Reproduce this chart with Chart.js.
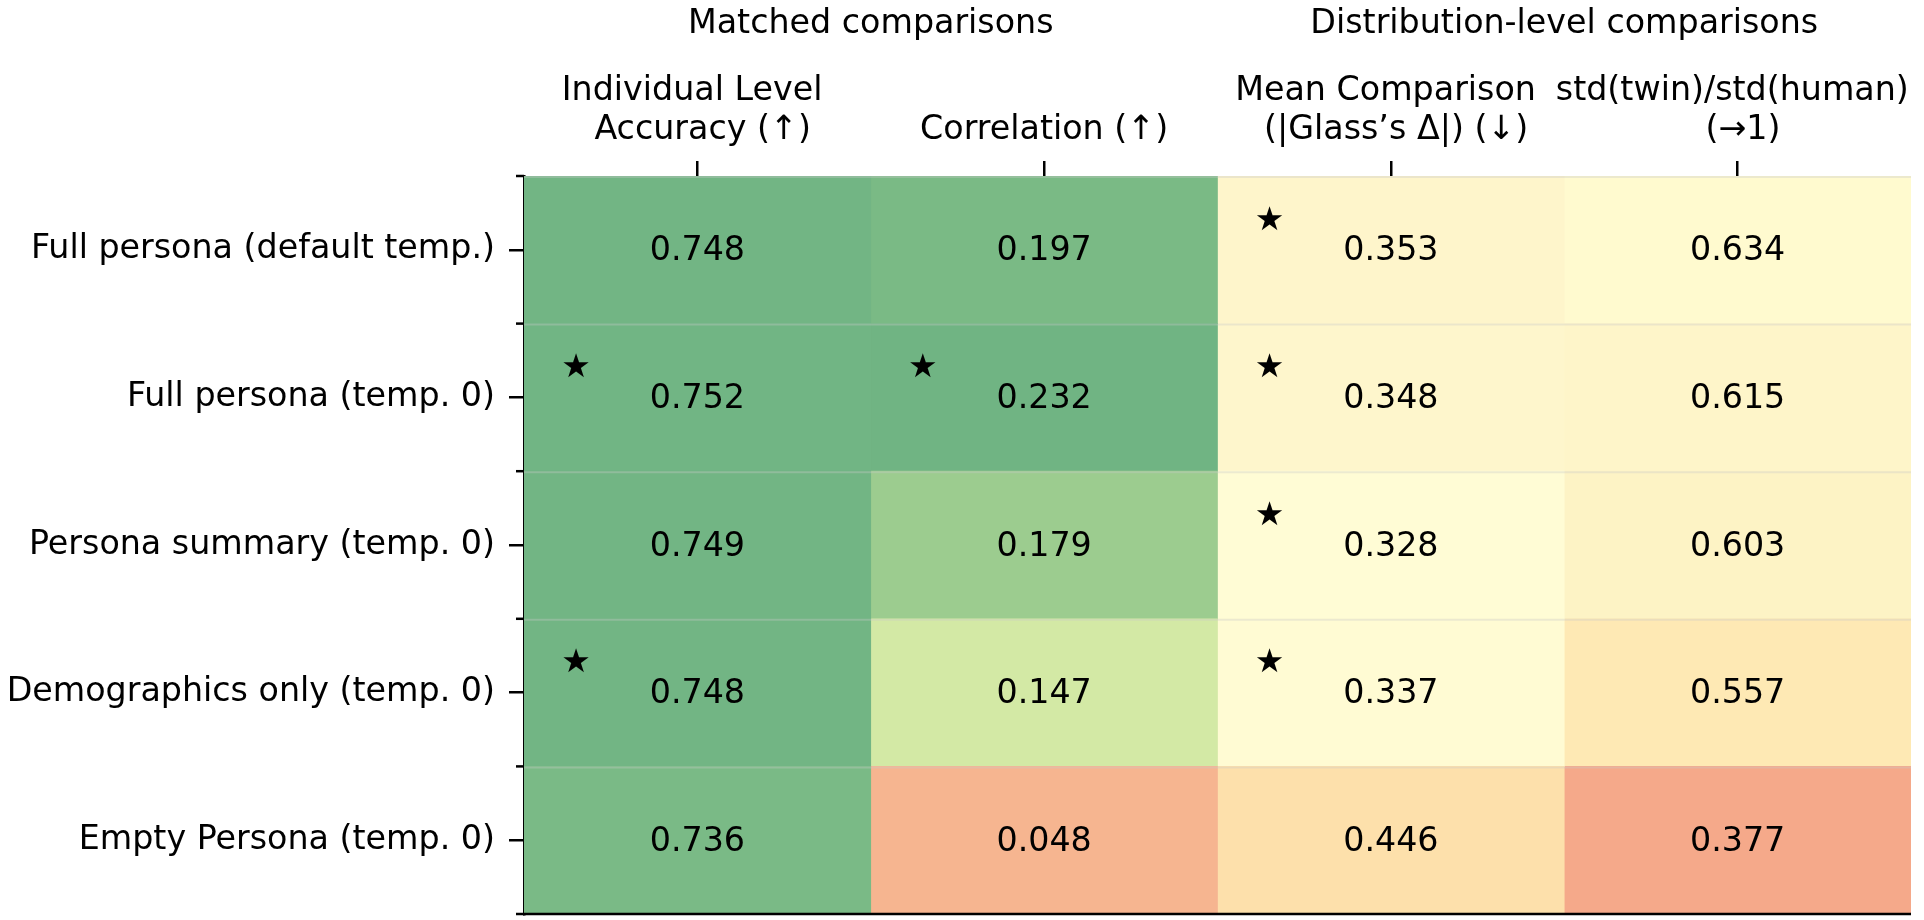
<!DOCTYPE html>
<html>
<head>
<meta charset="utf-8">
<script src="https://cdn.jsdelivr.net/npm/chart.js@4/dist/chart.umd.min.js"></script>
<style>
  html, body { margin: 0; padding: 0; background: #ffffff; }
  #wrap { width: 1924px; height: 920px; }
</style>
</head>
<body>
<div id="wrap"><canvas id="c" width="1924" height="920"></canvas></div>
<script>
// ---------- data ----------
const rowLabels = [
  "Full persona (default temp.)",
  "Full persona (temp. 0)",
  "Persona summary (temp. 0)",
  "Demographics only (temp. 0)",
  "Empty Persona (temp. 0)"
];
const groupLabels = ["Matched comparisons", "Distribution-level comparisons"];
const columnLabels = [
  ["Individual Level ", " Accuracy (\u2191)"],
  ["Correlation (\u2191)"],
  ["Mean Comparison ", " (|Glass\u2019s \u0394|) (\u2193)"],
  ["std(twin)/std(human) ", " (\u21921)"]
];
const accuracy    = [0.748, 0.752, 0.749, 0.748, 0.736];
const correlation = [0.197, 0.232, 0.179, 0.147, 0.048];
const glassDelta  = [0.353, 0.348, 0.328, 0.337, 0.446];
const stdRatio    = [0.634, 0.615, 0.603, 0.557, 0.377];
// best / not-significantly-different-from-best markers
const starAccuracy    = [false, true, false, true, false];
const starCorrelation = [false, true, false, false, false];
const starGlassDelta  = [true, true, true, true, false];
const starStdRatio    = [false, false, false, false, false];

// ---------- styles ----------
const cellColors = [
  ["#72b584", "#71b584", "#72b584", "#72b584", "#7aba86"],
  ["#7aba85", "#70b483", "#9ccc8f", "#d3e9a5", "#f6b590"],
  ["#fef5cb", "#fef6cc", "#fffcd5", "#fffbd3", "#fde0ab"],
  ["#fffacf", "#fef5c9", "#fdf3c5", "#fee9b4", "#f5a98a"]
];
const FONT = "'DejaVu Sans', sans-serif";
const FS = 33.3;

const columns = [accuracy, correlation, glassDelta, stdRatio];
const stars = [starAccuracy, starCorrelation, starGlassDelta, starStdRatio];

const datasets = columns.map((vals, c) => ({
  label: columnLabels[c].join(" "),
  data: vals.map((v, r) => ({ x: [c, c + 1], y: rowLabels[r], v: v, star: stars[c][r] })),
  backgroundColor: cellColors[c],
  borderWidth: 0,
  barPercentage: 1,
  categoryPercentage: 1,
  grouped: false
}));

const overlay = {
  id: 'overlay',
  afterDatasetsDraw(chart) {
    const ctx = chart.ctx;
    const area = chart.chartArea;
    const ys = chart.scales.y;
    ctx.save();
    // faint row separators
    ctx.strokeStyle = 'rgba(200,200,200,0.35)';
    ctx.lineWidth = 2;
    for (let i = 0; i < rowLabels.length; i++) {
      const yb = ys.getPixelForValue(i - 0.5);
      ctx.beginPath();
      ctx.moveTo(area.left, yb + 1);
      ctx.lineTo(area.right, yb + 1);
      ctx.stroke();
    }
    // values and stars
    ctx.fillStyle = '#000';
    chart.data.datasets.forEach((ds, di) => {
      const meta = chart.getDatasetMeta(di);
      meta.data.forEach((el, j) => {
        const raw = ds.data[j];
        const p = el.getCenterPoint();
        ctx.font = FS + "px " + FONT;
        ctx.textAlign = 'center';
        ctx.textBaseline = 'middle';
        ctx.fillText(raw.v.toFixed(3), p.x, p.y + 2);
        if (raw.star) {
          const left = Math.min(el.x, el.base);
          const top = p.y - el.height / 2;
          ctx.font = "33px " + FONT;
          ctx.fillText("\u2605", left + 52, top + 45);
        }
      });
    });
    ctx.restore();
  },
  afterDraw(chart) {
    const ctx = chart.ctx;
    const area = chart.chartArea;
    const xs = chart.scales.x, ys = chart.scales.y;
    ctx.save();
    ctx.strokeStyle = '#000';
    ctx.lineWidth = 2.5;
    // bottom spine
    ctx.beginPath();
    ctx.moveTo(area.left - 1, area.bottom);
    ctx.lineTo(area.right, area.bottom);
    ctx.stroke();
    // minor ticks at row boundaries
    for (let i = 0; i <= rowLabels.length; i++) {
      const yb = ys.getPixelForValue(i - 0.5);
      ctx.beginPath();
      ctx.moveTo(area.left - 8, yb);
      ctx.lineTo(area.left, yb);
      ctx.stroke();
    }
    // group headers
    ctx.fillStyle = '#000';
    ctx.font = FS + "px " + FONT;
    ctx.textAlign = 'center';
    ctx.textBaseline = 'middle';
    groupLabels.forEach((g, k) => {
      const cx = (xs.getPixelForValue(2 * k) + xs.getPixelForValue(2 * k + 2)) / 2;
      ctx.fillText(g, cx, 24);
    });
    ctx.restore();
  }
};

new Chart(document.getElementById('c'), {
  type: 'bar',
  data: { labels: rowLabels, datasets: datasets },
  options: {
    indexAxis: 'y',
    responsive: false,
    animation: false,
    devicePixelRatio: 1,
    layout: { padding: { left: 0, right: 13, top: 0, bottom: 6 } },
    plugins: { legend: { display: false }, tooltip: { enabled: false } },
    scales: {
      x: {
        type: 'linear',
        position: 'top',
        min: 0, max: 4,
        afterBuildTicks: (s) => { s.ticks = [0.5, 1.5, 2.5, 3.5].map(v => ({ value: v })); },
        afterFit: (s) => { s.height = 176; s.paddingLeft = 0; s.paddingRight = 0; },
        ticks: {
          autoSkip: false, maxRotation: 0, minRotation: 0,
          padding: 11,
          color: '#000',
          font: { family: FONT, size: FS, lineHeight: '39px' },
          callback: (v) => columnLabels[Math.round(v - 0.5)]
        },
        grid: { drawOnChartArea: false, drawTicks: true, tickLength: 15, lineWidth: 2.5, color: '#000' },
        border: { display: false }
      },
      y: {
        type: 'category',
        position: 'left',
        offset: true,
        z: 1,
        afterFit: (s) => { s.width = 524; s.paddingTop = 0; s.paddingBottom = 0; },
        ticks: { padding: 14, color: '#000', font: { family: FONT, size: FS } },
        grid: { offset: false, drawOnChartArea: false, drawTicks: true, tickLength: 15, lineWidth: 2.5, color: '#000' },
        border: { display: true, color: '#000', width: 2.5 }
      }
    }
  },
  plugins: [overlay]
});
</script>
</body>
</html>
